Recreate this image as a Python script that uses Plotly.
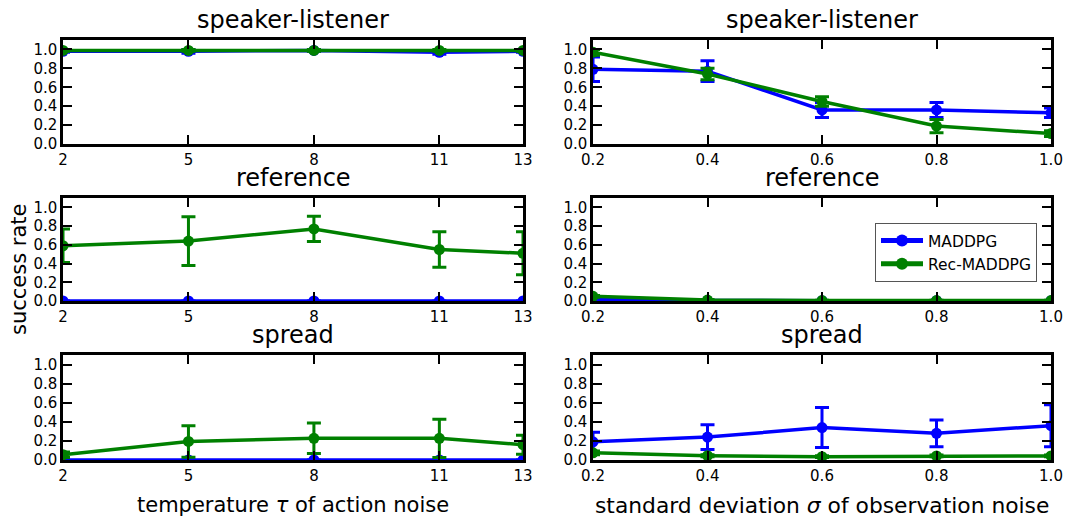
import plotly.graph_objects as go

# ---- data ----
tau = [2, 5, 8, 11, 13]
sigma = [0.2, 0.4, 0.6, 0.8, 1.0]

sl_tau_maddpg = [0.98, 0.98, 0.99, 0.97, 0.98]
sl_tau_maddpg_err = [0.01, 0.02, 0.01, 0.02, 0.01]
sl_tau_rec = [0.99, 0.99, 0.99, 0.99, 0.99]
sl_tau_rec_err = [0.01, 0.01, 0.01, 0.01, 0.01]

sl_sigma_maddpg = [0.79, 0.77, 0.36, 0.36, 0.33]
sl_sigma_maddpg_err = [0.13, 0.11, 0.08, 0.08, 0.05]
sl_sigma_rec = [0.97, 0.74, 0.45, 0.19, 0.11]
sl_sigma_rec_err = [0.03, 0.06, 0.05, 0.07, 0.03]

ref_tau_maddpg = [0.0, 0.0, 0.0, 0.0, 0.0]
ref_tau_maddpg_err = [0.0, 0.0, 0.0, 0.0, 0.0]
ref_tau_rec = [0.59, 0.64, 0.77, 0.55, 0.51]
ref_tau_rec_err = [0.18, 0.26, 0.135, 0.19, 0.23]

ref_sigma_maddpg = [0.02, 0.005, 0.003, 0.003, 0.003]
ref_sigma_maddpg_err = [0.01, 0.003, 0.002, 0.002, 0.002]
ref_sigma_rec = [0.05, 0.01, 0.005, 0.005, 0.005]
ref_sigma_rec_err = [0.01, 0.005, 0.003, 0.003, 0.003]

sp_tau_maddpg = [0.0, 0.0, 0.0, 0.0, 0.0]
sp_tau_maddpg_err = [0.0, 0.0, 0.0, 0.0, 0.0]
sp_tau_rec = [0.055, 0.195, 0.227, 0.227, 0.16]
sp_tau_rec_err = [0.03, 0.165, 0.16, 0.2, 0.1]

sp_sigma_maddpg = [0.19, 0.24, 0.34, 0.28, 0.36]
sp_sigma_maddpg_err = [0.1, 0.13, 0.21, 0.14, 0.22]
sp_sigma_rec = [0.075, 0.045, 0.035, 0.043, 0.043]
sp_sigma_rec_err = [0.02, 0.01, 0.01, 0.01, 0.01]

titles = ["speaker-listener", "reference", "spread"]
series_names = ["MADDPG", "Rec-MADDPG"]
colors = ["#0000ff", "#008000"]
tau_ticks = [2, 5, 8, 11, 13]
sigma_ticks = [0.2, 0.4, 0.6, 0.8, 1.0]
y_ticks = [0.0, 0.2, 0.4, 0.6, 0.8, 1.0]

panels = [
    (0, 0, tau, [(sl_tau_maddpg, sl_tau_maddpg_err), (sl_tau_rec, sl_tau_rec_err)]),
    (0, 1, sigma, [(sl_sigma_maddpg, sl_sigma_maddpg_err), (sl_sigma_rec, sl_sigma_rec_err)]),
    (1, 0, tau, [(ref_tau_maddpg, ref_tau_maddpg_err), (ref_tau_rec, ref_tau_rec_err)]),
    (1, 1, sigma, [(ref_sigma_maddpg, ref_sigma_maddpg_err), (ref_sigma_rec, ref_sigma_rec_err)]),
    (2, 0, tau, [(sp_tau_maddpg, sp_tau_maddpg_err), (sp_tau_rec, sp_tau_rec_err)]),
    (2, 1, sigma, [(sp_sigma_maddpg, sp_sigma_maddpg_err), (sp_sigma_rec, sp_sigma_rec_err)]),
]

W, H = 1069, 522
FONT = "DejaVu Sans"
x_doms = [(63 / W, 523 / W), (593 / W, 1051 / W)]
y_px = [(40, 144), (198, 301), (355, 460)]
y_doms = [(1 - b / H, 1 - t / H) for (t, b) in y_px]

fig = go.Figure()
layout = dict(
    template="none",
    width=W, height=H,
    margin=dict(l=0, r=0, t=0, b=0, autoexpand=False),
    paper_bgcolor="white", plot_bgcolor="white",
    font=dict(family=FONT, size=15, color="black"),
    showlegend=True,
    legend=dict(
        x=875 / W, y=1 - 223 / H, xanchor="left", yanchor="top",
        bordercolor="#555555", borderwidth=1, bgcolor="white",
        font=dict(family=FONT, size=15.5, color="black"),
        tracegroupgap=0, itemsizing="constant", itemwidth=42,
    ),
)

annotations = []
for i, (r, c, xs, ser) in enumerate(panels):
    k = i + 1
    xa = "x" if k == 1 else f"x{k}"
    ya = "y" if k == 1 else f"y{k}"
    for j, (yv, ev) in enumerate(ser):
        fig.add_trace(go.Scatter(
            x=xs, y=yv, mode="lines+markers",
            name=series_names[j],
            line=dict(color=colors[j], width=3.5),
            marker=dict(color=colors[j], size=11, symbol="circle"),
            error_y=dict(type="data", array=ev, visible=True, color=colors[j],
                         thickness=3, width=7),
            xaxis=xa, yaxis=ya,
            showlegend=(k == 4),
            legendgroup=series_names[j],
        ))
    is_tau = c == 0
    xaxis = dict(
        domain=list(x_doms[c]), anchor=ya, automargin=False,
        range=[2, 13] if is_tau else [0.2, 1.0],
        tickvals=tau_ticks if is_tau else sigma_ticks,
        ticktext=[str(v) for v in tau_ticks] if is_tau else [f"{v:.1f}" for v in sigma_ticks],
        ticks="inside", ticklen=9, tickwidth=1.5, tickcolor="black",
        showline=True, linewidth=2.5, linecolor="black", mirror="allticks",
        showgrid=False, zeroline=False,
        tickfont=dict(family=FONT, size=15, color="black"),
    )
    yaxis = dict(
        domain=list(y_doms[r]), anchor=xa, automargin=False,
        range=[0, 1.1],
        tickvals=y_ticks, ticktext=[f"{v:.1f}" for v in y_ticks],
        ticks="inside", ticklen=9, tickwidth=1.5, tickcolor="black",
        showline=True, linewidth=2.5, linecolor="black", mirror="allticks",
        showgrid=False, zeroline=False,
        tickfont=dict(family=FONT, size=15, color="black"),
    )
    layout["xaxis" if k == 1 else f"xaxis{k}"] = xaxis
    layout["yaxis" if k == 1 else f"yaxis{k}"] = yaxis
    annotations.append(dict(
        text=titles[r], xref="paper", yref="paper",
        x=(x_doms[c][0] + x_doms[c][1]) / 2, y=y_doms[r][1] + 4 / H,
        xanchor="center", yanchor="bottom", showarrow=False,
        font=dict(family=FONT, size=24, color="black"),
    ))

annotations.append(dict(
    text="temperature <i>τ</i> of action noise", xref="paper", yref="paper",
    x=(x_doms[0][0] + x_doms[0][1]) / 2, y=1 - 505 / H,
    xanchor="center", yanchor="middle", showarrow=False,
    font=dict(family=FONT, size=21, color="black"),
))
annotations.append(dict(
    text="standard deviation <i>σ</i> of observation noise", xref="paper", yref="paper",
    x=(x_doms[1][0] + x_doms[1][1]) / 2, y=1 - 505 / H,
    xanchor="center", yanchor="middle", showarrow=False,
    font=dict(family=FONT, size=21.8, color="black"),
))
annotations.append(dict(
    text="success rate", xref="paper", yref="paper",
    x=19 / W, y=1 - 270 / H, textangle=-90,
    xanchor="center", yanchor="middle", showarrow=False,
    font=dict(family=FONT, size=21, color="black"),
))
layout["annotations"] = annotations
fig.update_layout(**layout)
fig.write_html("out.html", config={"displayModeBar": False},
               post_script="document.body.style.margin='0px';")
